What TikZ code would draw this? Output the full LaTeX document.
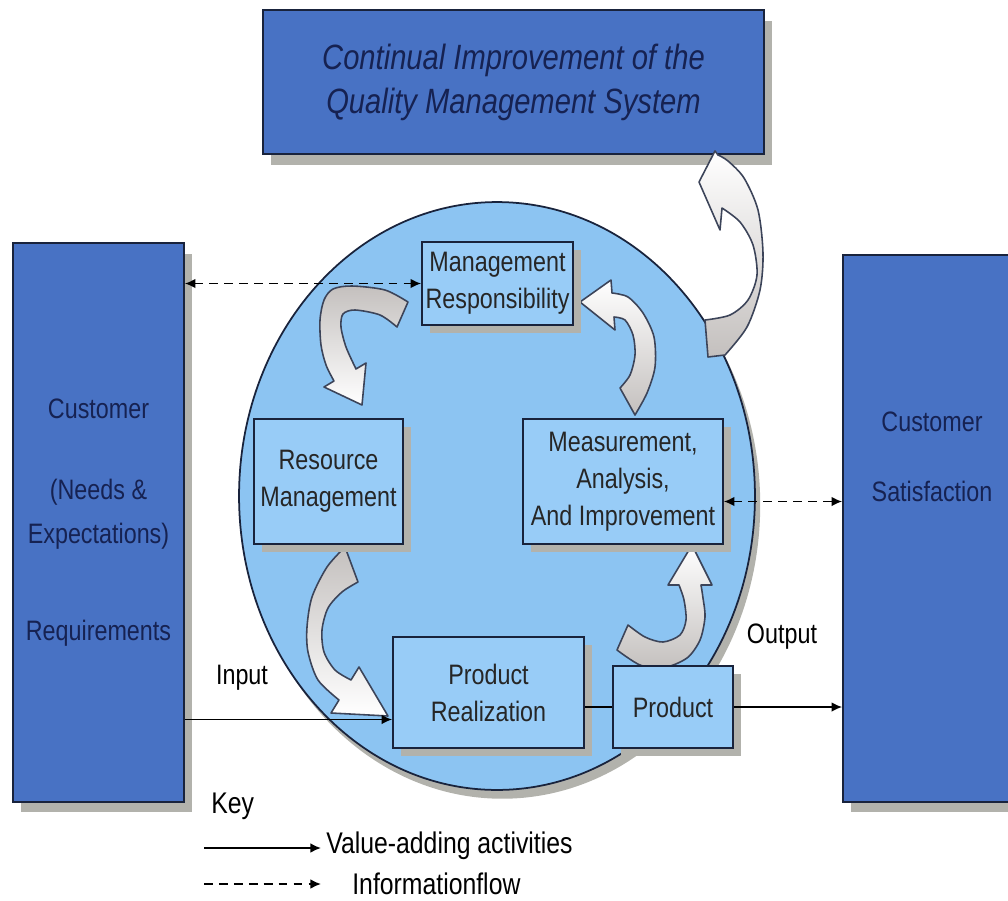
\documentclass[tikz,border=0pt]{standalone}
\usepackage{fontspec}
\setmainfont{Liberation Sans}[FakeStretch=0.83]
\usepackage{xcolor}
\usetikzlibrary{arrows.meta,shadows,shapes.geometric,calc}

\definecolor{bigblue}{RGB}{72,114,196}
\definecolor{ringblue}{RGB}{140,196,242}
\definecolor{boxblue}{RGB}{152,204,247}
\definecolor{navy}{RGB}{22,34,82}
\definecolor{edge}{RGB}{25,35,60}
\definecolor{shadowgrey}{RGB}{178,178,172}
\definecolor{tailgrey}{RGB}{196,192,190}

\begin{document}
\begin{tikzpicture}[x=0.02cm, y=-0.02cm,
	bigbox/.style={draw=edge, line width=1pt, fill=bigblue, inner sep=0pt, align=center, text=navy,
		font=\fontsize{16}{21}\selectfont, drop shadow={shadow xshift=4.5pt, shadow yshift=-6pt, fill=shadowgrey, opacity=1}},
	procbox/.style={draw=edge, line width=1pt, fill=boxblue, inner sep=0pt, align=center, text=black!85,
		font=\fontsize{16}{21}\selectfont, drop shadow={shadow xshift=4.5pt, shadow yshift=-4.5pt, fill=shadowgrey, opacity=1}},
	lbl/.style={inner sep=0pt, align=center, font=\fontsize{16}{21}\selectfont},
	valflow/.style={line width=1pt, -{Latex[length=6pt,width=5.5pt]}},
	infoflow/.style={line width=1pt, dash pattern=on 5pt off 3.5pt},
	fatarrow/.style={draw=edge!85, line width=0.9pt, line join=round}]
				% Boxes, ring and arrows:
				\useasboundingbox (0,0) rectangle (1008,900);
				\node[bigbox, minimum width=10.02cm, minimum height=2.88cm, font=\fontsize{20}{25}\selectfont\itshape] (cip) at (513.5,82) {Continual Improvement of the\\Quality Management System};
				\node[bigbox, minimum width=3.42cm, minimum height=11.18cm] (cust) at (98.5,522.5) {Customer\\[25pt](Needs \&\\[4pt]Expectations)\\[34pt]Requirements};
				\node[bigbox, minimum width=3.44cm, minimum height=10.94cm] (sat) at (929,528.5) {};
				\node[lbl, text=navy] (sattxt) at (932,457) {Customer\\[19pt]Satisfaction};
				\node[ellipse, draw=edge, line width=1pt, fill=ringblue, minimum width=10.32cm, minimum height=11.76cm,
					drop shadow={shadow xshift=3pt, shadow yshift=-5pt, fill=shadowgrey, opacity=1}] (ring) at (497,496) {};
				\shadedraw[fatarrow, top color=tailgrey, bottom color=white]
					plot[smooth] coordinates {(408,302) (385,290) (352,286) (333,289) (324,300) (320,320) (321,345) (326,365) (334,381)}
					-- (324,387) -- (362,405) -- (366,363) -- (356,369)
					-- plot[smooth] coordinates {(356,369) (346,347) (341,327) (343,314) (355,310) (380,315) (397,327)} -- cycle;
				\shadedraw[fatarrow, top color=tailgrey, bottom color=white]
					plot[smooth] coordinates {(345,547) (327,567) (312,597) (307,627) (308,652) (318,680) (339,700)}
					-- (331,713) -- (388,716) -- (359,667) -- (351,680)
					-- plot[smooth] coordinates {(351,680) (335,670) (324,652) (322,630) (328,608) (342,592) (358,582)} -- cycle;
				\shadedraw[fatarrow, top color=white, bottom color=tailgrey]
					plot[smooth] coordinates {(617,650) (640,665) (663,668) (687,658) (700,640) (705,617) (703,598) (701,585)}
					-- (712,585) -- (692,545) -- (668,585) -- (679,585)
					-- plot[smooth] coordinates {(679,585) (684,600) (686,620) (680,635) (663,642) (645,637) (628,625)} -- cycle;
				\shadedraw[fatarrow, top color=white, bottom color=tailgrey]
					plot[smooth] coordinates {(635,415) (647,393) (655,367) (654,337) (643,313) (628,297) (612,293)}
					-- (611,280) -- (580,302) -- (615,330) -- (614,317)
					-- plot[smooth] coordinates {(614,317) (625,320) (633,335) (635,355) (630,375) (620,388)} -- cycle;
				\shadedraw[fatarrow, top color=white, bottom color=tailgrey]
					(705,320) -- (708,357) -- (725,355)
					-- plot[smooth] coordinates {(725,355) (747,327) (760,290) (763,253) (758,210) (744,178) (728,161) (718,155)}
					-- (715,151) -- (699,182) -- (720,230) -- (722,208)
					-- plot[smooth] coordinates {(722,208) (740,222) (753,245) (757,275) (748,300) (730,315) (705,320)} -- cycle;
				\node[procbox, minimum width=3.02cm, minimum height=1.66cm] (mr) at (497.5,283.5) {Management\\Responsibility};
				\node[procbox, minimum width=2.98cm, minimum height=2.5cm] (rm) at (328.5,481.5) {Resource\\Management};
				\node[procbox, minimum width=4.0cm, minimum height=2.5cm] (mai) at (623,481.5) {Measurement,\\Analysis,\\And Improvement};
				\node[procbox, minimum width=3.82cm, minimum height=2.22cm] (pr) at (488.5,692.5) {Product\\Realization};
				\node[procbox, minimum width=2.4cm, minimum height=1.64cm] (prod) at (673,707) {Product};
				% Flows:
				\draw[infoflow, {Latex[length=6pt,width=5.5pt]}-{Latex[length=6pt,width=5.5pt]}] (cust.east |- mr.west) -- (mr.west);
				\coordinate (maiinfo) at ($(mai.east)+(0,20)$);
				\draw[infoflow, {Latex[length=6pt,width=5.5pt]}-{Latex[length=6pt,width=5.5pt]}] (maiinfo) -- (sat.west |- maiinfo);
				\coordinate (inpt) at ($(pr.west)+(0,27)$);
				\draw[valflow] (cust.east |- inpt) -- (inpt);
				\draw[line width=1pt] (pr.east |- prod.west) -- (prod.west);
				\draw[valflow] (prod.east) -- (sat.west |- prod.east);
				\node[lbl] (inlbl) at (242,678) {Input};
				\node[lbl] (outlbl) at (782,637) {Output};
				% Key:
				\node[lbl, anchor=west, font=\fontsize{17}{21}\selectfont] (key) at (211,806) {Key};
				\coordinate (vala) at (204,848);
				\coordinate (valb) at (321,848);
				\coordinate (infa) at (204,884);
				\coordinate (infb) at (321,884);
				\draw[valflow] (vala) -- (valb);
				\draw[infoflow, -{Latex[length=6pt,width=5.5pt]}] (infa) -- (infb);
				\node[lbl, anchor=west, font=\fontsize{17}{21}\selectfont] (valtxt) at (326,846) {Value-adding activities};
				\node[lbl, anchor=west, font=\fontsize{17}{21}\selectfont] (inftxt) at (352,884) {Informationflow};
\end{tikzpicture}
\end{document}
